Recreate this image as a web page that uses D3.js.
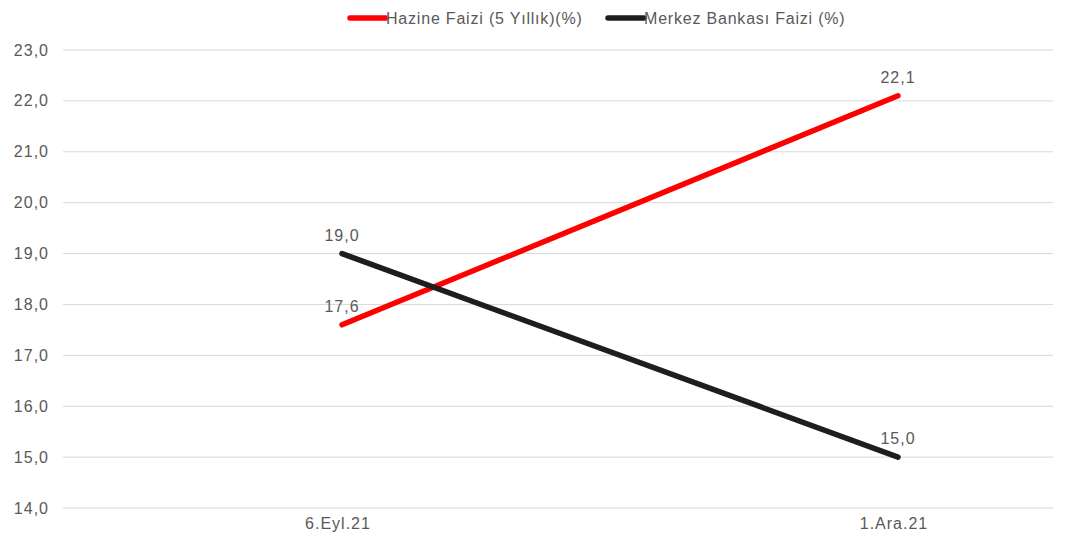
<!DOCTYPE html>
<html>
<head>
<meta charset="utf-8">
<script src="https://cdn.jsdelivr.net/npm/d3@7"></script>
<style>
  body { margin: 0; background: #fff; }
  text { font-family: "Liberation Sans", Arial, sans-serif; fill: #595959; letter-spacing: 1px; }
</style>
</head>
<body>
<script>
const dates = ["6.Eyl.21", "1.Ara.21"];
const hazine = [17.6, 22.1];
const merkez = [19.0, 15.0];
const yTicks = [14, 15, 16, 17, 18, 19, 20, 21, 22, 23];

const width = 1075, height = 539;

const svg = d3.select("body")
    .append("svg")
    .attr("width", width)
    .attr("height", height);

const x = d3.scalePoint().domain(dates).range([342, 898]);
const y = d3.scaleLinear().domain([14, 23]).range([508, 50]);
const fmt = v => d3.format(".1f")(v).replace(".", ",");

// grid
svg.append("g")
    .selectAll("line")
    .data(yTicks)
    .enter()
    .append("line")
    .attr("x1", 63)
    .attr("x2", 1053)
    .attr("y1", d => y(d))
    .attr("y2", d => y(d))
    .style("stroke", "#d9d9d9")
    .style("stroke-width", 1);

// y labels
svg.append("g")
    .selectAll("text")
    .data(yTicks)
    .enter()
    .append("text")
    .attr("x", 49)
    .attr("y", d => y(d))
    .attr("dy", "0.35em")
    .attr("text-anchor", "end")
    .style("font-size", "16px")
    .text(d => fmt(d));

// x labels
svg.append("g")
    .selectAll("text")
    .data(dates)
    .enter()
    .append("text")
    .attr("x", d => x(d) - 4)
    .attr("y", 529)
    .attr("text-anchor", "middle")
    .style("font-size", "16px")
    .text(d => d);

const series = [
    { name: "Hazine Faizi (5 Yıllık)(%)", values: hazine, color: "#ff0000" },
    { name: "Merkez Bankası Faizi (%)", values: merkez, color: "#1e1e1e" }
];

const line = d3.line()
    .x((d, i) => x(dates[i]))
    .y(d => y(d));

series.forEach(s => {
    svg.append("path")
        .datum(s.values)
        .attr("d", line)
        .style("fill", "none")
        .style("stroke", s.color)
        .style("stroke-width", 5.5)
        .style("stroke-linecap", "round");

    svg.append("g")
        .selectAll("text")
        .data(s.values)
        .enter()
        .append("text")
        .attr("x", (d, i) => x(dates[i]))
        .attr("y", d => y(d) - 13)
        .attr("text-anchor", "middle")
        .style("font-size", "16px")
        .text(d => fmt(d));
});

// legend
const legendX = [350, 608];
series.forEach((s, i) => {
    const g = svg.append("g").attr("transform", `translate(${legendX[i]},18)`);
    g.append("line")
        .attr("x1", 0)
        .attr("x2", 36)
        .style("stroke", s.color)
        .style("stroke-width", 5.5)
        .style("stroke-linecap", "round");
    g.append("text")
        .attr("x", 36)
        .attr("dy", "0.35em")
        .style("font-size", "16px")
        .style("letter-spacing", "0.8px")
        .text(s.name);
});
</script>
</body>
</html>
